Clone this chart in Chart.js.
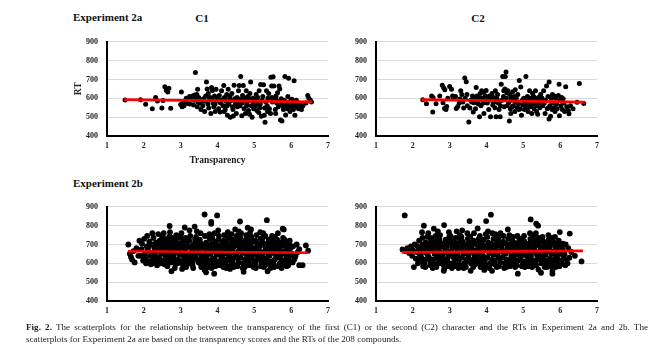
<!DOCTYPE html>
<html>
<head>
<meta charset="utf-8">
<script src="https://cdn.jsdelivr.net/npm/chart.js@4.4.1/dist/chart.umd.min.js"></script>
<style>
  body { margin: 0; width: 672px; height: 354px; background: #fff; position: relative; overflow: hidden; font-family: "Liberation Serif", serif; }
  canvas { position: absolute; }
  .lbl { position: absolute; font-weight: bold; color: #111; white-space: nowrap; font-size: 11px; line-height: 13px; }
  .mid { transform: translateX(-50%); }
  .cap { position: absolute; left: 26px; width: 622px; font-size: 9.1px; line-height: 12.6px; color: #222; white-space: nowrap; }
</style>
</head>
<body>
<div class="lbl" style="left:73px;top:11px">Experiment 2a</div>
<div class="lbl mid" style="left:202px;top:12px">C1</div>
<div class="lbl mid" style="left:478px;top:12px">C2</div>
<div class="lbl" style="left:73px;top:177px">Experiment 2b</div>

<canvas id="c1a" width="285" height="140" style="left:50px;top:28px"></canvas>
<canvas id="c2a" width="285" height="140" style="left:319px;top:28px"></canvas>
<canvas id="c1b" width="285" height="140" style="left:50px;top:193px"></canvas>
<canvas id="c2b" width="285" height="140" style="left:319px;top:193px"></canvas>

<div class="cap" style="top:321px;text-align:justify;text-align-last:justify"><b>Fig. 2.</b> The scatterplots for the relationship between the transparency of the first (C1) or the second (C2) character and the RTs in Experiment 2a and 2b. The</div>
<div class="cap" style="top:333px">scatterplots for Experiment 2a are based on the transparency scores and the RTs of the 208 compounds.</div>

<script>
// axis ticks
const xTicks = [1, 2, 3, 4, 5, 6, 7];
const yTicks = [400, 500, 600, 700, 800, 900];

// Experiment 2a, C1 transparency vs RT
const exp2aC1 = [
  [1.49,591],[1.91,592],[2.05,569],[2.23,544],[2.32,604],[2.37,586],[2.49,549],[2.52,588],[2.57,661],[2.61,643],[2.65,634],[2.68,653],[2.73,547],
  [3.02,634],[3.00,567],[3.04,555],[3.09,560],[3.06,575],[3.12,583],[3.15,600],[3.18,572],
  [3.24,610],[3.28,604],[3.31,598],[3.33,612],[3.36,590],[3.38,618],[3.40,737],[3.42,600],[3.44,620],[3.46,648],[3.47,580],[3.25,570],[3.35,565],[3.45,555],[3.49,605],
  [3.52,575],[3.55,540],[3.58,590],[3.60,560],[3.62,598],[3.65,530],[3.68,612],[3.70,686],[3.72,650],[3.74,570],[3.76,548],[3.78,600],[3.80,605],[3.82,520],[3.84,658],[3.86,642],[3.88,575],[3.90,555],[3.92,612],[3.94,530],[3.96,648],[3.98,590],[3.85,595],[3.75,625],[3.64,585],[3.93,568],
  [4.01,600],[4.03,545],[4.05,615],[4.07,528],[4.09,575],[4.11,640],[4.13,592],[4.15,560],[4.17,668],[4.19,605],[4.21,540],[4.23,585],[4.25,620],[4.27,510],[4.29,648],[4.31,570],[4.33,600],[4.35,500],[4.37,588],[4.39,625],[4.41,555],[4.43,506],[4.45,670],[4.47,598],[4.49,572],[4.06,580],[4.18,530],[4.26,560],[4.34,612],[4.42,540],
  [4.51,520],[4.53,605],[4.55,580],[4.57,640],[4.59,668],[4.61,560],[4.63,716],[4.64,590],[4.66,508],[4.68,615],[4.70,668],[4.72,545],[4.74,600],[4.76,520],[4.78,640],[4.80,575],[4.82,610],[4.84,535],[4.86,590],[4.88,625],[4.90,686],[4.92,560],[4.94,500],[4.96,600],[4.98,545],[4.54,555],[4.67,575],[4.79,560],[4.87,515],[4.97,580],[4.60,595],[4.85,600],
  [5.01,590],[5.03,560],[5.05,620],[5.07,535],[5.09,605],[5.11,575],[5.13,640],[5.15,550],[5.17,674],[5.19,505],[5.21,590],[5.23,610],[5.25,672],[5.27,510],[5.29,473],[5.31,580],[5.33,640],[5.35,560],[5.37,600],[5.39,625],[5.41,545],[5.43,595],[5.45,712],[5.47,665],[5.49,580],[5.06,598],[5.16,570],[5.28,548],[5.36,530],[5.44,520],[5.48,605],[5.12,525],
  [5.51,715],[5.53,665],[5.55,590],[5.57,540],[5.59,612],[5.61,575],[5.63,630],[5.65,555],[5.67,666],[5.69,650],[5.71,485],[5.73,598],[5.75,480],[5.77,560],[5.79,540],[5.81,590],[5.83,716],[5.85,512],[5.87,580],[5.89,545],[5.91,610],[5.93,706],[5.95,555],[5.97,530],[5.99,590],[5.60,590],[5.74,570],[5.86,560],[5.58,520],[5.94,575],
  [6.02,595],[6.04,560],[6.06,540],[6.08,693],[6.10,510],[6.12,575],[6.16,555],[6.20,545],[6.24,565],[6.28,540],[6.32,560],[6.40,575],[6.45,615],[6.48,600],[6.52,590],[6.55,580],[6.05,580],[6.14,590]
];

// Experiment 2a, C2 transparency vs RT
const exp2aC2 = [
  [2.27,592],[2.37,571],[2.51,612],[2.55,604],[2.54,528],[2.63,571],[2.73,612],[2.80,670],[2.84,655],[2.87,645],[2.82,576],[2.86,546],[2.90,540],[2.92,556],[2.95,600],
  [3.00,663],[3.05,648],[3.08,612],[3.10,600],[3.16,609],[3.18,546],[3.22,556],[3.26,575],[3.30,640],[3.33,620],[3.36,580],[3.41,708],[3.45,688],[3.42,600],[3.48,560],[3.38,548],[3.47,620],[3.28,596],
  [3.52,474],[3.55,548],[3.57,590],[3.60,580],[3.62,612],[3.64,528],[3.66,576],[3.68,600],[3.72,658],[3.74,612],[3.76,590],[3.78,570],[3.81,502],[3.83,625],[3.85,560],[3.87,640],[3.89,600],[3.91,575],[3.93,520],[3.95,585],[3.97,612],[3.99,642],[3.70,545],[3.80,605],[3.92,632],
  [4.02,575],[4.04,600],[4.06,540],[4.08,612],[4.11,502],[4.13,590],[4.15,625],[4.17,565],[4.19,605],[4.21,580],[4.23,550],[4.26,502],[4.28,600],[4.30,620],[4.32,575],[4.34,540],[4.37,502],[4.38,560],[4.40,675],[4.42,590],[4.44,716],[4.46,610],[4.48,555],[4.10,595],[4.24,640],[4.36,585],[4.47,640],
  [4.50,650],[4.51,716],[4.53,740],[4.54,600],[4.56,560],[4.58,640],[4.60,575],[4.62,480],[4.63,620],[4.65,545],[4.67,600],[4.69,590],[4.71,635],[4.73,560],[4.75,610],[4.77,530],[4.79,580],[4.81,600],[4.83,550],[4.85,620],[4.87,570],[4.89,695],[4.91,545],[4.93,660],[4.95,510],[4.97,590],[4.99,565],[4.55,630],[4.66,520],[4.78,645],[4.88,540],[4.70,555],
  [5.01,600],[5.03,540],[5.05,575],[5.07,716],[5.09,560],[5.11,610],[5.13,530],[5.15,590],[5.17,640],[5.19,555],[5.21,600],[5.23,520],[5.25,625],[5.27,570],[5.29,545],[5.31,600],[5.33,640],[5.35,560],[5.37,585],[5.39,515],[5.41,605],[5.43,575],[5.45,550],[5.47,620],[5.49,590],[5.08,585],[5.18,570],[5.28,610],[5.36,530],[5.44,595],[5.12,550],[5.22,580],
  [5.51,600],[5.53,560],[5.55,640],[5.57,575],[5.59,520],[5.61,590],[5.63,665],[5.65,545],[5.67,610],[5.70,686],[5.70,490],[5.72,560],[5.74,505],[5.76,600],[5.78,540],[5.80,575],[5.82,615],[5.84,550],[5.86,530],[5.88,600],[5.90,570],[5.92,545],[5.95,615],[5.97,675],[5.98,508],[5.56,585],[5.68,550],[5.79,620],
  [6.00,590],[6.02,560],[6.04,605],[6.06,540],[6.10,575],[6.15,661],[6.18,555],[6.22,535],[6.24,518],[6.28,560],[6.35,545],[6.46,579],[6.52,678],[6.64,573],[6.08,598],[6.12,530]
];

// Experiment 2b, C1 transparency vs RT
const exp2bC1 = [
  [1.58,700],[1.62,651],[1.65,634],[1.68,620],[1.75,605],[1.72,665],[1.80,680],[1.85,640],[1.88,720],
  [1.92,640],[1.95,705],[1.98,615],[1.94,675],
  [2.01,730],[2.03,650],[2.06,600],[2.08,690],[2.04,625],[2.09,745],
  [2.11,670],[2.13,610],[2.15,715],[2.17,640],[2.19,595],[2.14,690],
  [2.21,655],[2.23,760],[2.25,620],[2.27,700],[2.29,680],[2.24,600],[2.26,735],
  [2.31,640],[2.33,710],[2.35,665],[2.37,610],[2.39,755],[2.34,690],[2.36,590],[2.38,630],
  [2.41,680],[2.43,720],[2.45,600],[2.47,650],[2.49,745],[2.42,625],[2.46,700],[2.48,670],
  [2.51,615],[2.53,690],[2.55,660],[2.57,730],[2.59,640],[2.52,710],[2.56,595],[2.58,675],[2.54,760],
  [2.61,650],[2.63,700],[2.65,620],[2.67,680],[2.69,740],[2.62,600],[2.66,715],[2.68,660],[2.64,585],
  [2.70,798],[2.71,765],[2.72,630],[2.73,690],[2.75,558],[2.77,710],[2.79,655],[2.74,605],[2.76,670],[2.78,735],
  [2.81,640],[2.83,700],[2.85,615],[2.87,725],[2.89,660],[2.82,685],[2.86,595],[2.88,750],[2.84,575],
  [2.91,670],[2.93,620],[2.95,705],[2.97,645],[2.99,735],[2.92,600],[2.96,690],[2.98,660],
  [3.01,610],[3.03,680],[3.05,655],[3.07,720],[3.09,630],[3.02,760],[3.06,595],[3.08,700],[3.04,570],
  [3.11,790],[3.12,665],[3.14,615],[3.16,705],[3.18,640],[3.13,735],[3.17,685],[3.19,600],[3.15,580],
  [3.21,650],[3.23,720],[3.25,620],[3.27,690],[3.29,660],[3.22,600],[3.26,745],[3.28,635],[3.24,775],
  [3.31,680],[3.33,610],[3.35,700],[3.37,645],[3.39,725],[3.32,590],[3.36,665],[3.38,795],[3.34,575],
  [3.41,630],[3.43,695],[3.45,655],[3.47,715],[3.49,605],[3.42,740],[3.46,680],[3.48,620],[3.44,770],
  [3.51,660],[3.53,600],[3.55,705],[3.57,640],[3.59,685],[3.52,725],[3.56,580],[3.58,620],[3.54,760],
  [3.61,690],[3.63,630],[3.65,859],[3.65,565],[3.67,670],[3.69,710],[3.62,610],[3.66,745],[3.68,650],[3.64,595],
  [3.69,552],[3.71,640],[3.73,700],[3.75,615],[3.77,680],[3.79,730],[3.72,660],[3.76,595],[3.78,755],[3.74,580],
  [3.81,650],[3.83,820],[3.83,810],[3.85,705],[3.87,625],[3.89,690],[3.82,600],[3.86,735],[3.88,665],[3.84,575],
  [3.91,545],[3.91,680],[3.93,620],[3.95,715],[3.97,645],[3.99,854],[3.92,760],[3.96,600],[3.98,690],[3.94,585],
  [4.01,660],[4.03,725],[4.05,610],[4.07,695],[4.09,640],[4.02,775],[4.06,590],[4.08,680],[4.04,745],
  [4.11,630],[4.13,700],[4.15,660],[4.17,720],[4.19,605],[4.12,680],[4.16,580],[4.18,750],[4.14,645],
  [4.21,690],[4.23,620],[4.25,710],[4.27,650],[4.29,735],[4.22,595],[4.26,675],[4.28,765],[4.24,575],
  [4.31,655],[4.33,700],[4.35,615],[4.37,680],[4.39,725],[4.32,640],[4.36,590],[4.38,755],[4.34,570],
  [4.41,670],[4.43,625],[4.45,705],[4.47,650],[4.49,730],[4.42,600],[4.46,690],[4.48,780],[4.44,580],
  [4.51,640],[4.53,715],[4.55,660],[4.57,605],[4.59,690],[4.52,745],[4.56,625],[4.58,770],[4.54,585],
  [4.61,822],[4.61,680],[4.63,630],[4.65,710],[4.67,655],[4.69,600],[4.62,735],[4.66,690],[4.68,575],[4.64,760],
  [4.71,555],[4.71,665],[4.73,700],[4.75,620],[4.77,725],[4.79,645],[4.72,595],[4.76,685],[4.78,750],[4.74,580],
  [4.82,789],[4.81,650],[4.83,705],[4.85,610],[4.87,680],[4.89,730],[4.82,635],[4.86,590],[4.88,760],[4.84,665],
  [4.91,780],[4.91,690],[4.93,625],[4.95,715],[4.97,655],[4.99,600],[4.92,740],[4.96,675],[4.98,580],[4.94,640],
  [5.01,665],[5.03,720],[5.05,615],[5.07,690],[5.09,640],[5.02,595],[5.06,750],[5.08,705],[5.04,575],
  [5.11,650],[5.13,700],[5.15,625],[5.17,730],[5.19,600],[5.12,675],[5.16,765],[5.18,585],[5.14,690],
  [5.21,640],[5.23,710],[5.25,660],[5.27,605],[5.29,690],[5.22,735],[5.26,580],[5.28,625],[5.24,760],
  [5.34,829],[5.36,558],[5.31,675],[5.33,620],[5.35,705],[5.37,650],[5.39,725],[5.32,595],[5.38,690],[5.30,745],
  [5.41,640],[5.43,700],[5.45,610],[5.47,680],[5.49,720],[5.42,660],[5.46,590],[5.48,745],[5.44,575],
  [5.51,655],[5.53,690],[5.55,620],[5.57,715],[5.59,640],[5.52,600],[5.56,740],[5.58,670],[5.54,580],
  [5.61,680],[5.63,630],[5.65,705],[5.67,650],[5.69,600],[5.62,725],[5.66,585],[5.68,665],[5.64,760],
  [5.71,640],[5.73,690],[5.75,615],[5.77,784],[5.79,660],[5.72,710],[5.76,595],[5.78,735],[5.74,575],
  [5.80,780],[5.81,655],[5.83,700],[5.85,620],[5.87,680],[5.89,600],[5.82,725],[5.86,645],[5.88,585],
  [5.91,665],[5.93,615],[5.95,700],[5.97,640],[5.92,590],[5.96,720],[5.98,680],
  [6.02,650],[6.05,690],[6.08,620],[6.04,605],[6.12,640],[6.18,660],[6.22,675],[6.22,590],[6.31,590],[6.40,695],[6.46,667],[6.15,700],[6.10,630]
];

// Experiment 2b, C2 transparency vs RT
const exp2bC2 = [
  [1.72,674],[1.78,854],[1.80,665],[1.85,680],[1.90,655],[1.95,690],[1.98,640],[2.03,580],[2.00,670],[2.05,700],[2.08,625],
  [2.11,660],[2.13,690],[2.15,615],[2.17,720],[2.19,645],[2.14,600],[2.18,680],
  [2.21,670],[2.23,630],[2.25,765],[2.27,700],[2.29,605],[2.22,650],[2.26,735],[2.28,585],
  [2.30,800],[2.31,680],[2.33,620],[2.35,710],[2.37,655],[2.39,740],[2.32,595],[2.36,690],[2.34,580],
  [2.41,640],[2.43,700],[2.45,665],[2.47,610],[2.49,725],[2.42,760],[2.46,685],[2.48,590],[2.44,630],
  [2.51,675],[2.53,620],[2.55,705],[2.57,784],[2.59,650],[2.52,735],[2.56,600],[2.58,690],[2.54,575],
  [2.61,660],[2.63,715],[2.65,625],[2.67,690],[2.69,600],[2.62,745],[2.66,645],[2.68,770],[2.64,580],
  [2.71,680],[2.73,635],[2.75,710],[2.77,655],[2.79,600],[2.72,730],[2.76,690],[2.78,620],[2.74,750],
  [2.81,645],[2.83,700],[2.85,803],[2.86,620],[2.87,680],[2.89,725],[2.82,595],[2.88,660],[2.84,560],[2.85,570],
  [2.91,670],[2.93,610],[2.95,705],[2.97,640],[2.99,740],[2.92,690],[2.96,585],[2.98,765],[2.94,625],
  [3.01,655],[3.03,720],[3.05,600],[3.07,685],[3.09,635],[3.02,745],[3.06,575],[3.08,700],[3.04,665],
  [3.11,690],[3.13,625],[3.15,710],[3.17,650],[3.19,770],[3.12,600],[3.16,735],[3.18,680],[3.14,585],
  [3.21,640],[3.23,705],[3.25,615],[3.27,680],[3.29,725],[3.22,660],[3.26,590],[3.28,750],[3.24,575],
  [3.31,670],[3.33,630],[3.35,715],[3.37,650],[3.39,600],[3.32,740],[3.36,690],[3.38,575],[3.34,775],
  [3.41,655],[3.43,700],[3.45,620],[3.47,685],[3.49,730],[3.42,600],[3.46,665],[3.48,760],[3.44,580],
  [3.54,824],[3.51,640],[3.53,710],[3.55,660],[3.57,560],[3.59,695],[3.52,615],[3.56,740],[3.58,600],[3.54,680],
  [3.61,675],[3.63,620],[3.65,720],[3.67,645],[3.69,595],[3.62,700],[3.66,760],[3.68,665],[3.64,580],
  [3.71,650],[3.73,705],[3.75,610],[3.77,690],[3.79,730],[3.72,635],[3.76,785],[3.78,600],[3.74,670],
  [3.81,665],[3.83,720],[3.85,625],[3.87,680],[3.89,600],[3.82,745],[3.86,650],[3.88,700],[3.84,580],
  [3.91,640],[3.93,695],[3.95,615],[3.97,670],[3.99,824],[3.92,725],[3.96,590],[3.98,755],[3.94,565],
  [4.01,680],[4.03,630],[4.05,710],[4.07,655],[4.09,600],[4.02,740],[4.06,690],[4.08,575],[4.04,770],
  [4.12,858],[4.11,660],[4.13,705],[4.15,620],[4.17,685],[4.19,730],[4.14,600],[4.16,760],[4.18,645],[4.15,560],
  [4.21,675],[4.23,615],[4.25,700],[4.27,650],[4.29,725],[4.22,595],[4.26,690],[4.28,580],[4.24,755],
  [4.31,640],[4.33,710],[4.35,665],[4.37,605],[4.39,690],[4.32,735],[4.36,625],[4.38,760],[4.34,585],
  [4.41,680],[4.43,630],[4.45,715],[4.47,655],[4.49,600],[4.42,700],[4.46,745],[4.48,575],[4.44,665],
  [4.51,650],[4.53,705],[4.55,620],[4.57,685],[4.59,730],[4.52,595],[4.56,670],[4.58,780],[4.54,580],
  [4.61,665],[4.63,615],[4.65,700],[4.67,640],[4.69,725],[4.62,750],[4.66,600],[4.68,680],[4.64,585],
  [4.71,690],[4.73,630],[4.75,710],[4.77,655],[4.79,600],[4.72,740],[4.76,675],[4.78,580],[4.74,620],
  [4.81,645],[4.83,700],[4.85,545],[4.86,615],[4.87,680],[4.89,720],[4.82,590],[4.88,660],[4.84,745],
  [4.91,670],[4.93,625],[4.95,705],[4.97,650],[4.99,600],[4.92,730],[4.96,585],[4.98,690],[4.94,640],
  [5.01,660],[5.03,715],[5.05,610],[5.07,685],[5.09,640],[5.02,745],[5.06,595],[5.08,700],[5.04,580],
  [5.11,675],[5.13,620],[5.15,705],[5.17,650],[5.19,730],[5.12,600],[5.16,690],[5.18,760],[5.14,585],
  [5.20,833],[5.21,640],[5.23,700],[5.25,615],[5.27,680],[5.29,725],[5.22,660],[5.26,595],[5.28,750],[5.24,580],
  [5.31,665],[5.33,610],[5.35,810],[5.35,700],[5.37,645],[5.39,730],[5.32,690],[5.36,590],[5.38,625],[5.34,760],
  [5.40,800],[5.41,567],[5.41,655],[5.43,710],[5.45,620],[5.47,685],[5.49,600],[5.42,735],[5.46,670],[5.48,550],[5.44,640],
  [5.51,680],[5.53,630],[5.55,715],[5.57,655],[5.59,600],[5.52,740],[5.56,690],[5.58,580],[5.54,620],
  [5.61,645],[5.63,700],[5.65,615],[5.67,680],[5.69,725],[5.62,660],[5.66,595],[5.68,750],[5.64,580],
  [5.71,670],[5.73,625],[5.75,705],[5.77,650],[5.79,560],[5.79,545],[5.72,690],[5.76,600],[5.78,735],[5.74,585],
  [5.81,660],[5.83,710],[5.85,620],[5.87,685],[5.89,640],[5.82,600],[5.86,740],[5.88,580],[5.84,665],
  [5.91,675],[5.93,625],[5.95,700],[5.97,650],[5.99,766],[5.92,600],[5.96,720],[5.98,585],
  [6.01,660],[6.03,690],[6.05,615],[6.07,705],[6.09,640],[6.02,595],[6.06,675],
  [6.12,650],[6.15,700],[6.18,620],[6.20,600],[6.22,680],[6.26,758],[6.30,660],[6.40,640],[6.58,610],[6.25,630],[6.14,590]
];

// linear fit lines, end points
const fit2aC1 = [[1.47,593],[6.57,581]];
const fit2aC2 = [[2.24,593],[6.67,580]];
const fit2bC1 = [[1.57,664],[6.46,656]];
const fit2bC2 = [[1.70,658],[6.62,666]];

const FONT = '"Liberation Serif", "Times New Roman", serif';
const toXY = arr => arr.map(p => ({ x: p[0], y: p[1] }));

function drawPanel(id, points, fit, dotSize, withTitles) {
    new Chart(document.getElementById(id), {
        type: 'scatter',
        data: {
            datasets: [{
                type: 'line',
                data: toXY(fit),
                borderColor: '#ff0000',
                borderWidth: 2.6,
                pointRadius: 0,
                order: 0
            }, {
                data: toXY(points),
                backgroundColor: '#000',
                borderWidth: 0,
                pointRadius: dotSize,
                order: 1
            }]
        },
        options: {
            responsive: false,
            animation: false,
            devicePixelRatio: 1,
            layout: { padding: { left: 19, top: 6, right: 6, bottom: 0 } },
            plugins: { legend: { display: false }, tooltip: { enabled: false } },
            scales: {
                x: {
                    type: 'linear', min: xTicks[0], max: xTicks[xTicks.length - 1],
                    afterBuildTicks: s => { s.ticks = xTicks.map(v => ({ value: v })); },
                    ticks: { padding: 5, color: '#222', font: { family: FONT, size: 8, weight: 'bold' } },
                    grid: { display: false, drawTicks: false },
                    border: { color: '#000', width: 2 },
                    title: { display: withTitles, text: 'Transparency', color: '#222', padding: { top: 0, bottom: 2 },
                             font: { family: FONT, size: 9.5, weight: 'bold' } },
                    afterFit: s => { s.height = 32; }
                },
                y: {
                    min: yTicks[0], max: yTicks[yTicks.length - 1],
                    afterBuildTicks: s => { s.ticks = yTicks.map(v => ({ value: v })); },
                    ticks: { padding: 9, color: '#222', font: { family: FONT, size: 8, weight: 'bold' } },
                    grid: { color: '#d9d9d9', drawTicks: false },
                    border: { color: '#000', width: 2 },
                    title: { display: withTitles, text: 'RT', color: '#222', padding: { top: 4, bottom: 0 },
                             font: { family: FONT, size: 9.5, weight: 'bold' } },
                    afterFit: s => { s.width = 38; }
                }
            }
        }
    });
}

drawPanel('c1a', exp2aC1, fit2aC1, 2.5, true);
drawPanel('c2a', exp2aC2, fit2aC2, 2.5, false);
drawPanel('c1b', exp2bC1, fit2bC1, 2.9, false);
drawPanel('c2b', exp2bC2, fit2bC2, 2.9, false);
</script>
</body>
</html>
